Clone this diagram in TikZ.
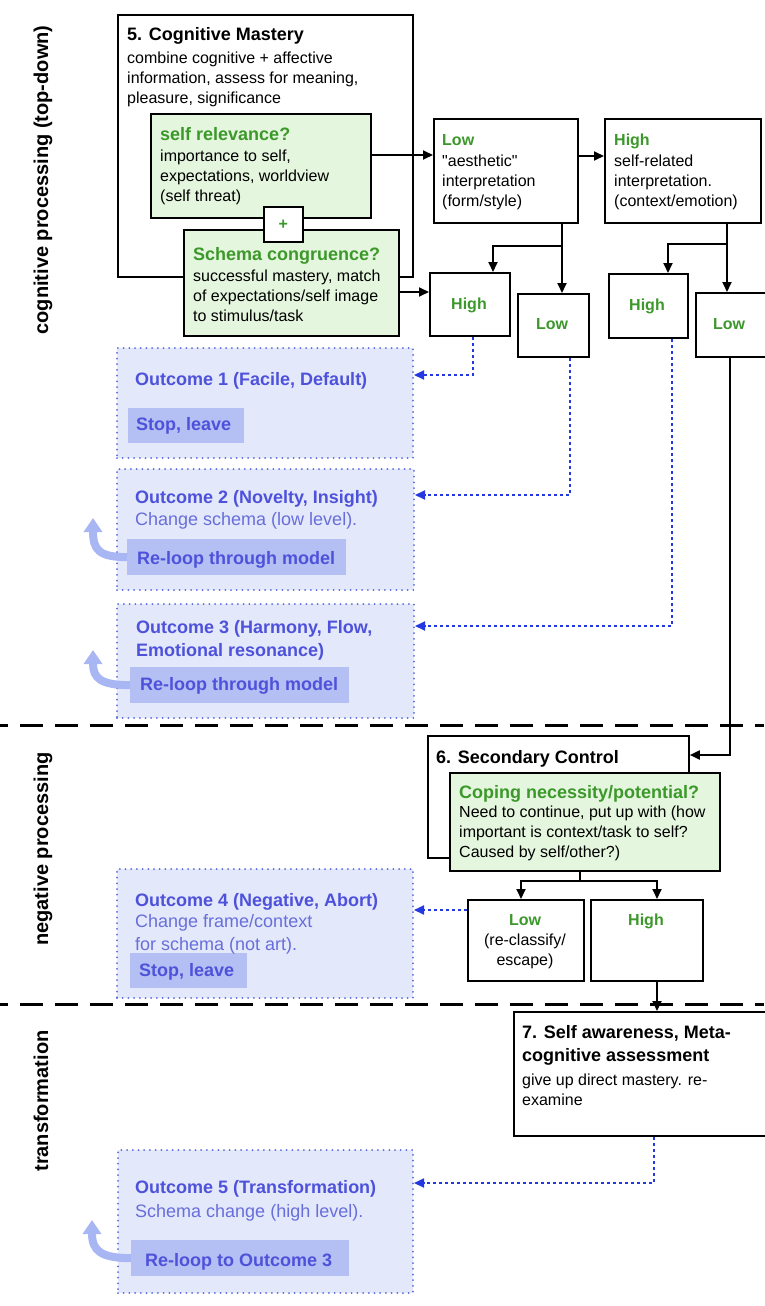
\documentclass[tikz,border=0pt]{standalone}
\usepackage{fontspec}
\setmainfont{Liberation Sans}
\newfontfamily\qfont{Liberation Sans}
\usetikzlibrary{arrows.meta}
\definecolor{tgreen}{RGB}{60,152,42}
\definecolor{gfill}{RGB}{229,246,222}
\definecolor{ofill}{RGB}{227,232,251}
\definecolor{sfill}{RGB}{180,192,244}
\definecolor{otitle}{RGB}{78,82,218}
\definecolor{osub}{RGB}{104,110,218}
\definecolor{odot}{RGB}{88,104,222}
\definecolor{darrc}{RGB}{36,56,226}
\definecolor{carrc}{RGB}{168,182,243}
\newcommand\fA{\fontsize{16}{19.8}\selectfont}
\newcommand\fB{\fontsize{18}{22.3}\selectfont}
\newcommand\fC{\fontsize{20}{24}\selectfont}
\begin{document}
\begin{tikzpicture}[x=1pt,y=-1pt,
 box/.style={draw=black, line width=1.8pt, fill=white, inner sep=0pt, anchor=north west},
 gbox/.style={box, fill=gfill},
 obox/.style={draw=odot, line width=2pt, dash pattern=on 0pt off 5.7pt, line cap=round, fill=ofill, inner sep=0pt, anchor=north west},
 sbox/.style={fill=sfill, inner sep=0pt, anchor=north west},
 txt/.style={anchor=base west, inner sep=0pt, align=left, font=\fA},
 ctxt/.style={anchor=base, inner sep=0pt, align=center, font=\fA},
 ttl/.style={anchor=base west, inner sep=0pt, font=\fB\bfseries},
 gttl/.style={ttl, text=tgreen},
 gsm/.style={anchor=base west, inner sep=0pt, font=\fA\bfseries, text=tgreen},
 gsmc/.style={anchor=base, inner sep=0pt, font=\fA\bfseries, text=tgreen},
 ottl/.style={anchor=base west, inner sep=0pt, align=left, font=\fB\bfseries, text=otitle},
 osub/.style={anchor=base west, inner sep=0pt, align=left, font=\fB, text=osub},
 sttl/.style={anchor=base west, inner sep=0pt, font=\fB\bfseries, text=otitle},
 side/.style={anchor=base, rotate=90, inner sep=0pt, font=\fC\bfseries},
 arr/.style={draw=black, line width=1.8pt, -{Triangle[length=10pt,width=9pt]}},
 darr/.style={draw=darrc, line width=1.8pt, dash pattern=on 3pt off 3pt, -{Triangle[length=10pt,width=9pt]}},
 carr/.style={draw=carrc, line width=8pt, -{Triangle[length=14pt,width=18pt]}},
 sepline/.style={draw=black, line width=3pt, dash pattern=on 23pt off 12pt, dash phase=15pt}]
\useasboundingbox (0,0) rectangle (764,1306);

% separators
\draw[sepline] (0,725) -- (764,725);
\draw[sepline] (0,1004) -- (764,1004);

% side labels
\node[side] (lab1) at (48,180) {cognitive processing (top-down)};
\node[side] (lab2) at (48,849) {negative processing};
\node[side] (lab3) at (48,1101) {transformation};

% 5. Cognitive mastery
\node[box, minimum width=295pt, minimum height=262pt] (cm) at (117,14) {};
\node[ttl] (cmT) at (127,41) {5. Cognitive Mastery};
\node[txt] (cmB) at (127,103) {combine cognitive + affective\\information, assess for meaning,\\pleasure, significance};
\node[gbox, minimum width=220pt, minimum height=104pt] (selfrel) at (150,113) {};
\node[gttl] (srT) at (160,140) {self relevance?};
\node[txt] (srB) at (160,201) {importance to self,\\expectations, worldview\\(self threat)};
\node[gbox, minimum width=215pt, minimum height=106pt] (schema) at (183,229) {};
\node[gttl] (scT) at (193,260) {Schema congruence?};
\node[txt] (scB) at (193,321) {successful mastery, match\\of expectations/self image\\to stimulus/task};
\node[box, minimum width=39pt, minimum height=35pt, font=\fA\bfseries, text=tgreen] (plus) at (263,206) {+};

% interpretation boxes
\node[box, minimum width=144pt, minimum height=104pt] (lowA) at (433,118) {};
\node[gsm] (lowAT) at (442,145) {Low};
\node[txt] (lowAB) at (442,206) {{\qfont"}aesthetic{\qfont"}\\interpretation\\(form/style)};
\node[box, minimum width=156pt, minimum height=104pt] (highB) at (604,118) {};
\node[gsm] (highBT) at (614,145) {High};
\node[txt] (highBB) at (614,206) {self-related\\interpretation.\\(context/emotion)};

\node[box, minimum width=80pt, minimum height=63pt] (h1) at (429,272) {};
\node[gsmc] (h1T) at (469,309) {High};
\node[box, minimum width=71pt, minimum height=63pt] (l1) at (517,293) {};
\node[gsmc] (l1T) at (552,329) {Low};
\node[box, minimum width=79pt, minimum height=64pt] (h2) at (608,273) {};
\node[gsmc] (h2T) at (647,310) {High};
\node[box, minimum width=75pt, minimum height=64pt] (l2) at (695,292) {};
\node[gsmc] (l2T) at (729,329) {Low};

% 6. Secondary control
\node[box, minimum width=261pt, minimum height=122pt] (sc) at (427,735) {};
\node[ttl] (scT6) at (436,763) {6. Secondary Control};
\node[gbox, minimum width=270pt, minimum height=98pt] (cope) at (449,772) {};
\node[gttl] (cpT) at (459,798) {Coping necessity/potential?};
\node[txt] (cpB) at (459,857) {Need to continue, put up with (how\\important is context/task to self?\\Caused by self/other?)};
\node[box, minimum width=116pt, minimum height=81pt] (l3) at (467,899) {};
\node[gsmc] (l3T) at (525,925) {Low};
\node[ctxt] (l3B) at (525,965) {(re-classify/\\escape)};
\node[box, minimum width=112pt, minimum height=81pt] (h3) at (590,899) {};
\node[gsmc] (h3T) at (646,925) {High};

% 7. Self awareness
\node[box, minimum width=260pt, minimum height=124pt] (b7) at (513,1011) {};
\node[ttl, align=left] (b7T) at (522,1061) {7. Self awareness, Meta-\\cognitive assessment};
\node[txt] (b7B) at (522,1105) {give up direct mastery. re-\\examine};

% outcomes
\node[obox, minimum width=296pt, minimum height=110pt] (o1) at (116,347) {};
\node[sbox, minimum width=116pt, minimum height=35pt] (s1) at (128,408) {};
\node[ottl] (o1T) at (135,385) {Outcome 1 (Facile, Default)};
\node[sttl] (s1T) at (136,430) {Stop, leave};

\node[obox, minimum width=297pt, minimum height=121pt] (o2) at (116,468) {};
\node[sbox, minimum width=219pt, minimum height=36pt] (r2) at (127,539) {};
\node[ottl] (o2T) at (135,503) {Outcome 2 (Novelty, Insight)};
\node[osub] (o2B) at (135,525) {Change schema (low level).};
\node[sttl] (r2T) at (137,564) {Re-loop through model};

\node[obox, minimum width=297pt, minimum height=114pt] (o3) at (116,603) {};
\node[sbox, minimum width=219pt, minimum height=36pt] (r3) at (130,667) {};
\node[ottl] (o3T) at (136,656) {Outcome 3 (Harmony, Flow,\\Emotional resonance)};
\node[sttl] (r3T) at (140,690) {Re-loop through model};

\node[obox, minimum width=296pt, minimum height=129pt] (o4) at (116,868) {};
\node[sbox, minimum width=117pt, minimum height=35pt] (s4) at (130,953) {};
\node[ottl] (o4T) at (135,906) {Outcome 4 (Negative, Abort)};
\node[osub] (o4B) at (135,950) {Change frame/context\\for schema (not art).};
\node[sttl] (s4T) at (139,976) {Stop, leave};

\node[obox, minimum width=295pt, minimum height=143pt] (o5) at (117,1149) {};
\node[sbox, minimum width=218pt, minimum height=36pt] (r5) at (131,1240) {};
\node[ottl] (o5T) at (135,1193) {Outcome 5 (Transformation)};
\node[osub] (o5B) at (135,1217) {Schema change (high level).};
\node[sttl] (r5T) at (145,1266) {Re-loop to Outcome 3};

% curved re-loop arrows
\draw[carr] (r2.west) .. controls (99,557) and (93,550) .. (93,518);
\draw[carr] (r3.west) .. controls (100,685) and (93,678) .. (93,650);
\draw[carr] (r5.west) .. controls (101,1258) and (92,1251) .. (92,1220);

% solid connectors
\draw[arr] (selfrel.east |- 0,155) -- (lowA.west |- 0,155);
\draw[arr] (lowA.east |- 0,156) -- (highB.west |- 0,156);
\draw[arr] (schema.east |- 0,292) -- (h1.west |- 0,292);
\draw[arr] (lowA.south -| 562,0) -- (l1.north -| 562,0);
\draw[arr] (lowA.south -| 562,0) -- (562,246) -| (h1.north -| 493,0);
\draw[arr] (highB.south -| 727,0) -- (l2.north -| 727,0);
\draw[arr] (highB.south -| 727,0) -- (727,244) -| (h2.north -| 668,0);
\draw[arr] (l2.south -| 730,0) |- (sc.east |- 0,755);
\draw[arr] (cope.south -| 580,0) -- (580,881) -| (l3.north -| 521,0);
\draw[arr] (cope.south -| 580,0) -- (580,881) -| (h3.north -| 657,0);
\draw[arr] (h3.south -| 657,0) -- (b7.north -| 657,0);

% dotted connectors
\draw[darr] (h1.south -| 473,0) |- (o1.east |- 0,375);
\draw[darr] (l1.south -| 570,0) |- (o2.east |- 0,495);
\draw[darr] (h2.south -| 672,0) |- (o3.east |- 0,626);
\draw[darr] (l3.west |- 0,910) -- (o4.east |- 0,910);
\draw[darr] (b7.south -| 654,0) |- (o5.east |- 0,1183);
\end{tikzpicture}
\end{document}
